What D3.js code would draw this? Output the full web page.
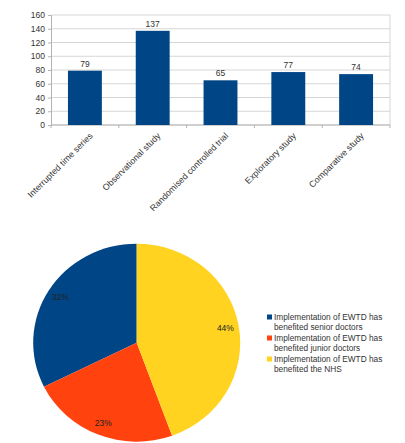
<!DOCTYPE html>
<html>
<head>
<meta charset="utf-8">
<script src="https://d3js.org/d3.v7.min.js"></script>
<style>
  body { margin: 0; background: #fff; }
  text { font-family: "Liberation Sans", Arial, sans-serif; fill: #333; }
</style>
</head>
<body>
<div id="chart"></div>
<script>
// bar chart data
var categories = ["Interrupted time series", "Observational study", "Randomised controlled trial", "Exploratory study", "Comparative study"];
var counts = [79, 137, 65, 77, 74];
var yTicks = [0, 20, 40, 60, 80, 100, 120, 140, 160];

// pie data
var pieLabels = [
    ["Implementation of EWTD has", "benefited senior doctors"],
    ["Implementation of EWTD has", "benefited junior doctors"],
    ["Implementation of EWTD has", "benefited the NHS"]
];
var piePercents = [32, 23, 44];
var pieColors = ["#004586", "#ff420e", "#ffd320"];

var svg = d3.select("#chart").append("svg")
    .attr("width", 405)
    .attr("height", 443);

// BAR CHART
var margin = { top: 15, left: 51 },
    width = 339,
    height = 110;

var g = svg.append("g")
    .attr("transform", "translate(" + margin.left + "," + margin.top + ")");

var x = d3.scaleBand()
    .domain(categories)
    .range([0, width])
    .paddingInner(0.5)
    .paddingOuter(0.25);

var y = d3.scaleLinear()
    .domain([0, 160])
    .range([height, 0]);

// grid
g.selectAll(".grid")
    .data(yTicks)
    .enter().append("line")
    .attr("x1", 0).attr("x2", width)
    .attr("y1", function (d) { return y(d); })
    .attr("y2", function (d) { return y(d); })
    .style("stroke", "#d6d6d6")
    .style("stroke-width", 1);

g.append("line")
    .attr("x1", width).attr("x2", width)
    .attr("y1", 0).attr("y2", height)
    .style("stroke", "#d6d6d6");

var yAxis = d3.axisLeft(y)
    .tickValues(yTicks)
    .tickSize(3)
    .tickPadding(3);
var ya = g.append("g").call(yAxis);
ya.select(".domain").style("stroke", "#b3b3b3");
ya.selectAll(".tick line").style("stroke", "#b3b3b3");
ya.selectAll("text").style("font-size", "8.5px").style("fill", "#333")
    .style("font-family", "Liberation Sans, Arial, sans-serif");

// x axis baseline + boundary ticks
g.append("line")
    .attr("x1", 0).attr("x2", width)
    .attr("y1", height).attr("y2", height)
    .style("stroke", "#b3b3b3");
var step = x.step();
g.selectAll(".xtick")
    .data(d3.range(categories.length + 1))
    .enter().append("line")
    .attr("x1", function (i) { return i * width / categories.length; })
    .attr("x2", function (i) { return i * width / categories.length; })
    .attr("y1", height).attr("y2", height + 3)
    .style("stroke", "#b3b3b3");

g.selectAll("rect")
    .data(counts)
    .enter().append("rect")
    .attr("x", function (d, i) { return x(categories[i]); })
    .attr("width", x.bandwidth())
    .attr("y", function (d) { return y(d); })
    .attr("height", function (d) { return height - y(d); })
    .style("fill", "#004586");

g.selectAll(".value")
    .data(counts)
    .enter().append("text")
    .attr("x", function (d, i) { return x(categories[i]) + x.bandwidth() / 2; })
    .attr("y", function (d) { return y(d) - 4; })
    .attr("text-anchor", "middle")
    .style("font-size", "8.5px")
    .text(function (d) { return d; });

g.selectAll(".cat")
    .data(categories)
    .enter().append("text")
    .attr("text-anchor", "end")
    .attr("transform", function (d) {
        return "translate(" + (x(d) + x.bandwidth() / 2 + 4) + "," + (height + 7) + ") rotate(-45)";
    })
    .attr("dy", "0.7em")
    .style("font-size", "8.8px")
    .text(function (d) { return d; });

// PIE CHART
var rx = 103.5, ry = 99;
var pg = svg.append("g")
    .attr("transform", "translate(136.7,342.7) scale(1," + (ry / rx) + ")");

var pie = d3.pie()
    .sort(null)
    .startAngle(0)
    .endAngle(-2 * Math.PI);

var arcs = pie(piePercents);
var arc = d3.arc().innerRadius(0).outerRadius(rx);

pg.selectAll("path")
    .data(arcs)
    .enter().append("path")
    .attr("d", arc)
    .style("fill", function (d, i) { return pieColors[i]; });

var labelArc = d3.arc().innerRadius(rx * 0.87).outerRadius(rx * 0.87);
pg.selectAll(".pct")
    .data(arcs)
    .enter().append("text")
    .attr("transform", function (d) {
        var c = labelArc.centroid(d);
        return "translate(" + c[0] + "," + c[1] + ") scale(1," + (rx / ry) + ")";
    })
    .attr("text-anchor", "middle")
    .attr("dy", "0.35em")
    .style("font-size", "8.5px")
    .style("fill", "#222")
    .text(function (d) { return d.data + "%"; });

// legend
var legend = svg.append("g").attr("transform", "translate(267,317)");
var item = legend.selectAll(".item")
    .data(pieLabels)
    .enter().append("g")
    .attr("transform", function (d, i) { return "translate(0," + (i * 21) + ")"; });
item.append("rect")
    .attr("x", 0).attr("y", -2.5)
    .attr("width", 5).attr("height", 5)
    .style("fill", function (d, i) { return pieColors[i]; });
item.selectAll("text")
    .data(function (d) { return d; })
    .enter().append("text")
    .attr("x", 7)
    .attr("y", function (d, j) { return j * 10.4; })
    .attr("dy", "0.35em")
    .style("font-size", "8.3px")
    .text(function (d) { return d; });
</script>
</body>
</html>
